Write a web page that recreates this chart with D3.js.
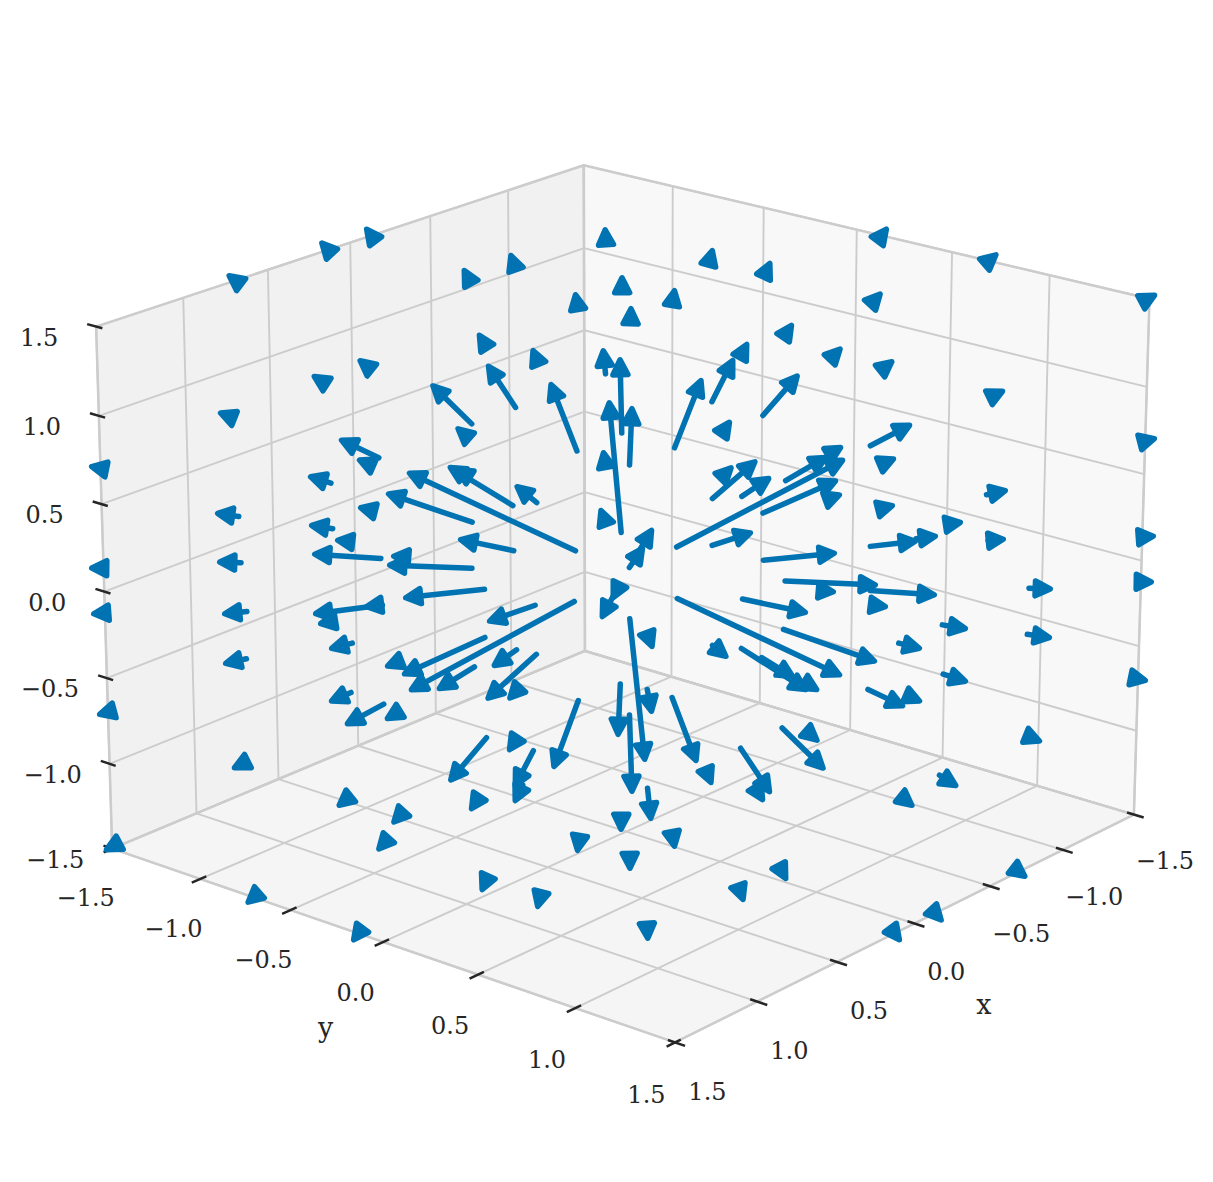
<!DOCTYPE html>
<html><head><meta charset="utf-8">
<style>html,body{margin:0;padding:0;background:#fff}svg{display:block}</style>
<script src="https://d3js.org/d3.v7.min.js"></script></head><body><div id="c"></div>
<script>
// Axis values
const tickValues = [-1.5,-1,-0.5,0,0.5,1,1.5];
const tickLabels = ["\u22121.5","\u22121.0","\u22120.5","0.0","0.5","1.0","1.5"];
// Arrows: tip position and arrow length on the view plane
// (origin = projected centre of the cube; every arrow points radially out of it).
const tipH = [-3.98,-3.05,-4.07,-3.13,-2.86,-5.36,-2.60,-1.62,-1.15,-0.20,-0.50,-1.47,-0.93,-2.67,-1.94,-1.38,-0.75,-1.69,-0.22,-0.05,-0.16,-0.22,-0.03,0.06,0.88,1.46,0.50,2.63,2.57,1.68,2.17,2.69,1.23,1.09,0.77,1.74,1.06,2.87,0.07,2.20,2.03,2.18,2.13,2.17,0.28,0.19,1.28,1.46,1.32,1.08,2.12,2.53,2.11,3.12,2.63,1.83,2.17,2.52,0.28,1.03,1.83,1.70,1.94,2.80,2.97,0.20,0.27,0.72,-0.13,-0.24,-2.18,-2.39,-1.67,-1.77,-1.70,-1.10,-2.67,-3.13,-2.34,-2.38,-2.22,-1.38,-2.16,-2.23,-2.40,-1.88,-1.33,-1.39,-1.17,-2.80,-2.40,-0.72,-0.07,0.07,-1.76,-1.17,-1.11,-1.11,-1.55,-2.33,-2.48,-0.48,-1.44,-0.88,-2.73,-0.04,0.05,0.26,0.87,1.46,1.39,2.00,1.94,0.50,1.62,1.19,0.23,2.76,2.89,4.17,3.33,4.02,3.18,3.83,3.38,3.81,2.93,3.13,5.31,5.29,4.28,4.27,3.43,3.43,5.23,2.97,5.32,3.73,5.32,3.80,2.71,2.70,-3.17,-4.10,-3.16,-4.08,-2.90,-5.36,-5.34,-4.03,-3.12,-2.61,-3.07,-2.96,-4.02,-2.96,-5.28,-3.93,-3.79,-5.21,-2.88,-2.68,-0.25];
const tipV = [3.00,3.33,1.62,1.99,1.35,1.08,3.47,3.06,3.21,3.47,2.82,2.41,2.26,2.15,1.90,2.10,1.92,1.47,2.26,2.17,1.74,1.24,2.99,2.68,3.26,3.13,2.86,3.47,2.82,2.51,2.27,2.14,2.32,2.16,1.96,2.00,1.54,1.50,1.68,1.15,1.18,1.28,0.94,0.80,0.46,0.28,0.42,0.97,1.14,1.08,0.21,-0.11,-0.18,-0.21,-0.33,-0.39,-1.02,-0.88,-0.75,-0.84,-1.17,-1.04,-1.17,-1.33,-1.28,-1.88,-1.40,-1.89,-0.26,-0.45,1.02,0.81,0.35,1.08,1.06,0.89,0.67,0.20,0.18,0.09,-0.24,-0.48,-1.17,-1.01,-0.93,-1.16,-0.93,-1.26,-1.26,-1.51,-1.46,-1.95,-1.63,-2.20,-2.08,-1.78,-2.14,-2.29,-2.37,-2.50,-2.77,-2.79,-3.18,-3.35,-3.68,-2.58,-2.97,-2.47,-2.11,-2.20,-2.28,-1.96,-1.68,-2.75,-3.07,-3.28,-3.67,-3.68,-2.33,-1.68,-2.13,-3.04,-3.48,0.84,0.52,0.35,0.33,0.38,0.38,-0.08,-0.15,-0.64,-0.55,-1.08,-1.07,-0.75,1.36,3.21,2.80,1.84,1.16,0.69,0.98,0.61,0.49,0.12,0.34,0.06,-0.40,-0.40,-0.40,-0.33,-0.50,-0.75,-0.90,-1.28,-1.41,-1.95,-3.30,-2.77,-2.33,1.15,0.66];
const arrowLen = [0.16,0.16,0.16,0.16,0.44,0.16,0.16,0.16,0.16,0.16,0.16,0.16,0.16,0.16,0.57,0.52,0.74,0.16,0.26,0.76,1.33,0.16,0.16,0.16,0.16,0.16,0.16,0.16,0.16,0.16,0.16,0.16,0.16,0.49,0.75,0.55,0.16,0.47,0.59,1.90,0.49,0.16,0.82,0.16,0.32,0.26,0.43,0.35,0.59,0.16,0.74,0.93,0.16,0.67,0.16,0.67,1.82,0.99,0.16,0.20,0.79,0.39,0.16,0.41,0.16,1.44,0.25,0.70,0.16,0.26,1.86,0.91,0.57,0.76,0.16,0.28,0.16,0.69,0.16,0.85,0.82,0.51,1.88,0.91,0.16,0.44,0.30,0.68,0.16,0.44,0.16,0.73,0.53,0.79,0.58,0.16,0.42,0.20,0.16,0.16,0.16,0.16,0.16,0.16,0.16,0.16,0.16,0.33,0.16,0.55,0.16,0.60,0.16,0.16,0.16,0.16,0.16,0.16,0.16,0.16,0.22,0.16,0.16,0.22,0.16,0.18,0.48,0.22,0.16,0.16,0.24,0.25,0.26,0.26,0.16,0.24,0.16,0.16,0.16,0.16,0.16,0.16,0.24,0.24,0.24,0.24,0.16,0.16,0.16,0.25,0.70,0.16,0.16,0.24,0.24,0.24,0.16,0.16,0.16,0.16,0.16,0.16,0.16];

const W=1213,H=1182, cx=625, cy=574, boxDx=1.5, boxDy=2;
const dark="#262626", blue="#0173b2", grid="#cccccc";
const deg=Math.PI/180, elev=20*deg, azim=40*deg, dist=10;
const halfXY=0.5953, halfZ=0.4464, viewScale=61.84;
const sx=d3.scaleLinear().domain([-1.5,1.5]).range([-halfXY,halfXY]);
const sz=d3.scaleLinear().domain([-1.5,1.5]).range([-halfZ,halfZ]);
const viewX=d3.scaleLinear().domain([-1,1]).range([cx-100,cx+100]);
const viewY=d3.scaleLinear().domain([-1,1]).range([cy+100,cy-100]);
const se=Math.sin(elev),ce=Math.cos(elev),sa=Math.sin(azim),ca=Math.cos(azim);
function proj(x,y,z){
  const bx=sx(x),by=sx(y),bz=sz(z);
  const xv=-sa*bx+ca*by, yv=-se*ca*bx-se*sa*by+ce*bz, d=ce*ca*bx+ce*sa*by+se*bz;
  const k=viewScale/(dist-d);
  return [viewX(xv*k)+boxDx,viewY(yv*k)+boxDy];
}
const svg=d3.select("#c").append("svg").attr("width",W).attr("height",H);
const lo=-1.5,hi=1.5;
const panes=[
 {c:"#f1f1f1",p:[[lo,lo,lo],[hi,lo,lo],[hi,lo,hi],[lo,lo,hi]]},
 {c:"#f8f8f8",p:[[lo,lo,lo],[lo,hi,lo],[lo,hi,hi],[lo,lo,hi]]},
 {c:"#f5f5f5",p:[[lo,lo,lo],[hi,lo,lo],[hi,hi,lo],[lo,hi,lo]]}];
svg.append("g").selectAll("polygon").data(panes).join("polygon")
  .attr("points",d=>d.p.map(q=>proj(...q).join(",")).join(" "))
  .attr("fill",d=>d.c).attr("stroke",grid).attr("stroke-width",2.5).attr("stroke-linejoin","round");
const gl=[];
tickValues.forEach(t=>{
  gl.push([[t,lo,lo],[t,hi,lo]],[[lo,t,lo],[hi,t,lo]],[[t,lo,lo],[t,lo,hi]],[[lo,lo,t],[hi,lo,t]],[[lo,t,lo],[lo,t,hi]],[[lo,lo,t],[lo,hi,t]]);
});
const line=d3.line();
svg.append("g").selectAll("path").data(gl).join("path")
  .attr("d",d=>line(d.map(q=>proj(...q)))).attr("fill","none").attr("stroke",grid).attr("stroke-width",1.9);
const tk=[];
tickValues.forEach(t=>{
  tk.push([[t,hi-0.035,lo],[t,hi+0.05,lo]],[[hi-0.035,t,lo],[hi+0.05,t,lo]],[[hi,lo+0.035,t],[hi,lo-0.05,t]]);
});
svg.append("g").selectAll("path").data(tk).join("path")
  .attr("d",d=>line(d.map(q=>proj(...q)))).attr("stroke",dark).attr("stroke-width",2.5).attr("fill","none");
const lab=[];
tickValues.forEach((t,i)=>{
  const f=(t+1.5)/3;
  let p=proj(t,hi,lo); lab.push({x:p[0]+31+1.5*f,y:p[1]+46+4*f,s:tickLabels[i],fs:24});
  p=proj(hi,t,lo); lab.push({x:p[0]-26.5-2*f,y:p[1]+49+4*f,s:tickLabels[i],fs:24});
  p=proj(hi,lo,t); lab.push({x:p[0]-57,y:p[1]+11,s:tickLabels[i],fs:24});
});
let p0=proj(0,hi,lo); lab.push({x:p0[0]+69.5,y:p0[1]+81,s:"x",fs:27});
p0=proj(hi,0,lo); lab.push({x:p0[0]-57.5,y:p0[1]+86,s:"y",fs:27});
svg.append("g").selectAll("text").data(lab).join("text")
  .attr("x",d=>d.x).attr("y",d=>d.y).attr("text-anchor","middle").attr("dominant-baseline","central")
  .attr("font-family","'DejaVu Serif'").attr("font-size",d=>d.fs).attr("fill",dark).text(d=>d.s);
const arrows=tipH.map((h,i)=>{
  const v=tipV[i],r=Math.hypot(h,v),f=1-arrowLen[i]/r;
  const tip=[viewX(h),viewY(v)],tail=[viewX(h*f),viewY(v*f)];
  const dl=Math.hypot(tip[0]-tail[0],tip[1]-tail[1]),ux=(tip[0]-tail[0])/dl,uy=(tip[1]-tail[1])/dl;
  return {tip,tail,ux,uy,len:dl};
});
const headLen=15,headHalf=7.5,lw=5.5;
const ga=svg.append("g");
const ag=ga.selectAll("g").data(arrows).join("g");
ag.filter(d=>d.len>headLen+2.5).append("line")
  .attr("x1",d=>d.tail[0]).attr("y1",d=>d.tail[1])
  .attr("x2",d=>d.tip[0]-d.ux*(2.75+headLen)).attr("y2",d=>d.tip[1]-d.uy*(2.75+headLen))
  .attr("stroke",blue).attr("stroke-width",lw).attr("stroke-linecap","round");
ag.append("polygon").attr("points",d=>{
  const ax=d.tip[0]-d.ux*2.75,ay=d.tip[1]-d.uy*2.75,bx=ax-d.ux*headLen,by=ay-d.uy*headLen;
  return [[ax,ay],[bx-d.uy*headHalf,by+d.ux*headHalf],[bx+d.uy*headHalf,by-d.ux*headHalf]].map(q=>q.join(",")).join(" ");
}).attr("fill",blue).attr("stroke",blue).attr("stroke-width",lw).attr("stroke-linejoin","round");
</script></body></html>
